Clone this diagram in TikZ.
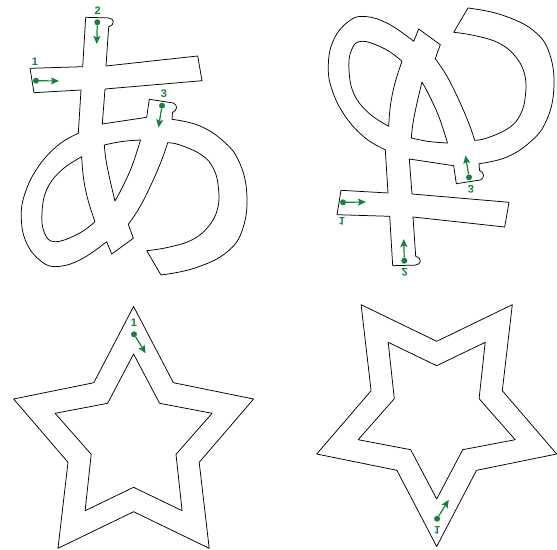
\documentclass[tikz,border=0pt]{standalone}
\usepackage{fontspec}
\usepackage{xcolor}
\usepackage{tikz}
\usetikzlibrary{arrows.meta}
\newfontfamily\markfont{Liberation Sans}
\definecolor{strokegreen}{HTML}{17803D}

% hiragana "a" outline with its three stroke markers (#1 = name prefix)
\newcommand{\hiraganaA}[1]{%
  \draw[glyph] (30,68.3) -- (82.7,66.7) -- (85.7,17.3) -- (108.3,17.9)
    .. controls (114.5,18.5) and (115.5,24.5) .. (108.7,26.7)
    -- (106,66) -- (197.7,56) -- (202,80.7) -- (105,89) -- (102.3,124)
    -- (146.7,117.3) -- (149.3,99.3) -- (173.3,103)
    .. controls (178,105) and (177.5,110.5) .. (172.5,112.5) -- (172,119.3)
    -- plot[smooth, tension=0.7] coordinates {(176.7,120) (200,126) (222,140) (238.3,160) (246.7,192) (243,228) (227,252) (195,268) (161,275)}
    -- plot[smooth, tension=0.7] coordinates {(146.7,250.7) (168.3,247.3) (191.7,240) (208.3,226.7) (217.7,208.3) (218.3,186.7) (213.3,168.3) (201.7,155) (180,145) (167.7,142.7)}
    -- plot[smooth, tension=0.7] coordinates {(167.7,142.7) (161.7,160) (151.7,183.3) (140,206.7) (128.3,224.3)}
    -- (133.3,238.3) -- (111.7,254) -- (106.7,241.7)
    -- plot[smooth, tension=0.7] coordinates {(106.7,241.7) (81.7,259) (58.3,266.5) (41.7,261.7) (26.7,243.3) (21.3,218) (25,193.3) (38.3,166.7) (58.3,145) (78.3,133.3)}
    -- (81,90) -- (34,92.7) -- cycle;
  \draw[glyph] (81.7,156.7)
    -- plot[smooth, tension=0.7] coordinates {(81.7,156.7) (83.5,178) (88,200) (95,221.7)}
    -- plot[smooth, tension=0.7] coordinates {(95,221.7) (78,234) (55,241.7) (44.5,233) (42,213) (47,189) (61.7,170) (81.7,156.7)}
    -- cycle;
  \draw[glyph] (104.3,145)
    -- plot[smooth, tension=0.7] coordinates {(104.3,145) (122,141.5) (140.5,140)}
    -- plot[smooth, tension=0.7] coordinates {(140.5,140) (132,166) (122,188) (115,201)}
    -- plot[smooth, tension=0.7] coordinates {(115,201) (110,180) (106,160) (104.3,145)}
    -- cycle;
  % stroke markers
  \node[numlabel] (#1-n1) at (35,61.7) {1};
  \node[dotmark] (#1-d1) at (36,80.7) {};
  \coordinate (#1-e1) at (59,81);
  \node[numlabel] (#1-n2) at (97.8,10.3) {2};
  \node[dotmark] (#1-d2) at (97.3,22.3) {};
  \coordinate (#1-e2) at (96.7,44);
  \node[numlabel] (#1-n3) at (164,94) {3};
  \node[dotmark] (#1-d3) at (162,105.7) {};
  \coordinate (#1-e3) at (158.5,127.5);
  \draw[arrow] (#1-d1) -- (#1-e1);
  \draw[arrow] (#1-d2) -- (#1-e2);
  \draw[arrow] (#1-d3) -- (#1-e3);
}

% double star outline with its marker (#1 = name prefix)
\newcommand{\starOutline}[1]{%
  \draw[glyph] (133.6,306.5) -- (173.4,382.7) -- (253.6,399) -- (199.2,462.3)
    -- (209.2,548.3) -- (133.6,511.7) -- (58,548.3) -- (68,462.3)
    -- (13.6,399) -- (93.8,382.7) -- cycle;
  \draw[glyph] (133.6,354) -- (159.6,403.3) -- (212.1,413.3) -- (176,454.3)
    -- (182.1,510.7) -- (133.6,487.3) -- (85.1,510.7) -- (91.2,454.3)
    -- (55.1,413.3) -- (107.6,403.3) -- cycle;
  \node[numlabel] (#1-n1) at (134,322.7) {1};
  \node[dotmark] (#1-d1) at (134,334.3) {};
  \coordinate (#1-e1) at (145.7,353.3);
  \draw[arrow] (#1-d1) -- (#1-e1);
}

\begin{document}
\begin{tikzpicture}[x=1pt, y=-1pt,
  glyph/.style={draw=black, line width=0.75pt, line join=round},
  dotmark/.style={circle, fill=strokegreen, inner sep=0pt, minimum size=6pt},
  numlabel/.style={font=\markfont\bfseries\fontsize{11}{11}\selectfont, text=strokegreen, inner sep=0pt, transform shape},
  arrow/.style={-{Stealth[length=8pt, width=7pt, inset=1.5pt]}, line width=1.2pt, color=strokegreen}
]
  \useasboundingbox (0,0) rectangle (557,549);

  % upright hiragana
  \hiraganaA{aup}
  % mirrored hiragana
  \begin{scope}[shift={(307,283)}, yscale=-1]
    \hiraganaA{adown}
  \end{scope}

  % upright star
  \starOutline{sup}
  % mirrored star
  \begin{scope}[shift={(303.1,853)}, yscale=-1]
    \starOutline{sdown}
  \end{scope}
\end{tikzpicture}
\end{document}
